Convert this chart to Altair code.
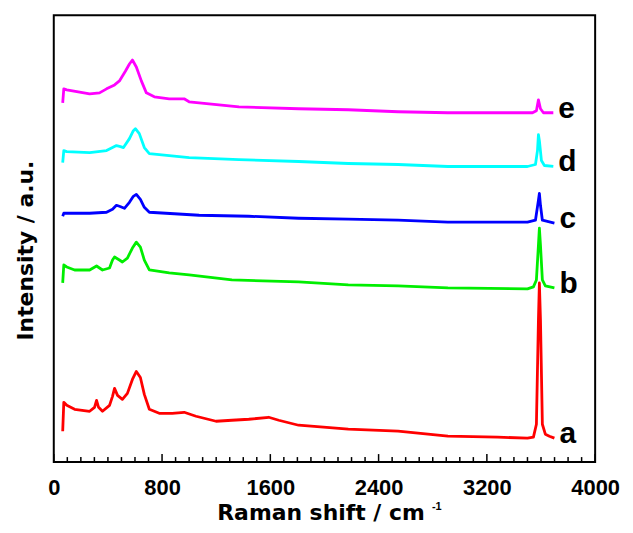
import altair as alt
import pandas as pd

# ---- data (Raman shift in cm-1, intensity in a.u., offset stacked) ----
series_names = ["a", "b", "c", "d", "e"]
series_colors = ["#FF0000", "#00EE00", "#0000FF", "#00FFFF", "#FF00FF"]

a_x = [66, 74, 96, 154, 265, 301, 316, 331, 360, 412, 434, 449, 471, 507, 544, 581, 610, 640, 669, 706,
       779, 875, 963, 1051, 1199, 1316, 1441, 1588, 1662, 1809, 2176, 2544, 2912, 3279, 3500, 3544, 3566,
       3581, 3588, 3596, 3610, 3632, 3662, 3699]
a_y = [31, 60, 57, 53, 51, 55, 62, 55, 51, 57, 66, 74, 67, 63, 69, 83, 91, 85, 68, 53,
       49, 49, 50, 46, 41, 42, 43, 45, 42, 37, 33, 31, 26, 25, 24, 25, 38,
       143, 180, 143, 38, 28, 26, 24]

b_x = [66, 74, 96, 154, 265, 316, 360, 412, 434, 449, 485, 507, 544, 581, 610, 640, 669, 706,
       853, 1000, 1316, 1809, 2176, 2544, 2912, 3500, 3544, 3566, 3581, 3588, 3596, 3610, 3632, 3699]
b_y = [180, 198, 196, 193, 193, 197, 193, 195, 203, 206, 203, 201, 205, 215, 221, 216, 203, 193,
       190, 188, 183, 181, 178, 177, 175, 174, 176, 183, 218, 235, 218, 183, 177, 175]

c_x = [66, 74, 96, 265, 390, 434, 463, 485, 522, 559, 588, 610, 640, 669, 706,
       1074, 1441, 1809, 2176, 2544, 2912, 3500, 3559, 3581, 3588, 3596, 3610, 3699]
c_y = [247, 250, 250, 250, 251, 254, 258, 257, 255, 261, 267, 269, 264, 256, 251,
       248, 247, 245, 244, 243, 241, 241, 243, 263, 270, 258, 243, 240]

d_x = [66, 74, 96, 265, 390, 434, 463, 493, 515, 559, 588, 603, 632, 669, 706,
       1000, 1368, 1809, 2176, 2544, 2912, 3500, 3559, 3574, 3581, 3588, 3603, 3625, 3691]
d_y = [301, 313, 312, 311, 313, 316, 318, 317, 316, 325, 333, 335, 330, 316, 310,
       306, 304, 302, 300, 299, 297, 297, 299, 313, 329, 323, 303, 298, 297]

e_x = [66, 74, 96, 265, 338, 390, 449, 485, 530, 559, 581, 610, 647, 684, 743, 853, 963, 1000,
       1368, 1809, 2176, 2544, 2912, 3537, 3566, 3581, 3596, 3618, 3691]
e_y = [361, 375, 374, 370, 371, 375, 379, 383, 393, 400, 404, 397, 383, 371, 367, 365, 365, 362,
       357, 355, 354, 352, 351, 351, 353, 364, 355, 351, 351]

x_major_ticks = [0, 800, 1600, 2400, 3200, 4000]
x_minor_ticks = [v for v in range(100, 4000, 100) if v % 800 != 0]

# ---- build tables ----
rows = []
for name, xs, ys in zip(series_names, [a_x, b_x, c_x, d_x, e_x], [a_y, b_y, c_y, d_y, e_y]):
    for i, (xv, yv) in enumerate(zip(xs, ys)):
        rows.append({"series": name, "shift": xv, "intensity": yv, "order": i})
df = pd.DataFrame(rows)

last = df.sort_values("order").groupby("series").tail(1).reset_index(drop=True)

major_df = pd.DataFrame({"tick": x_major_ticks})
minor_df = pd.DataFrame({"tick": x_minor_ticks})

FONT = "Liberation Sans"
TFONT = "DejaVu Sans"
W, H = 544, 449

xscale = alt.Scale(domain=[0, 4000], nice=False)
yscale = alt.Scale(domain=[0, 449], nice=False, zero=True)
color = alt.Color("series:N", scale=alt.Scale(domain=series_names, range=series_colors), legend=None)

lines = alt.Chart(df).mark_line(strokeWidth=2.8, strokeJoin="round").encode(
    x=alt.X("shift:Q", scale=xscale,
            axis=alt.Axis(values=x_major_ticks, format="d", title="Raman shift / cm", ticks=False,
                          grid=False, domain=False, labelFont=FONT, labelFontSize=22,
                          labelFontWeight="bold", labelColor="black", labelPadding=16, labelFlush=False,
                          titleFont=TFONT, titleFontSize=22, titleFontWeight="bold", titleColor="black",
                          titleX=268, titleAlign="center", titlePadding=4)),
    y=alt.Y("intensity:Q", scale=yscale,
            axis=alt.Axis(title="Intensity / a.u.", labels=False, ticks=False, grid=False, domain=False,
                          titleFont=TFONT, titleFontSize=22, titleFontWeight="bold", titleColor="black",
                          titlePadding=16, titleY=236, titleAlign="center")),
    color=color,
    detail="series:N",
    order="order:Q",
)

labels = alt.Chart(last).mark_text(align="left", baseline="alphabetic", dx=5, dy=5,
                                   font=FONT, fontSize=30, fontWeight="bold", color="black").encode(
    x=alt.X("shift:Q", scale=xscale),
    y=alt.Y("intensity:Q", scale=yscale),
    text="series:N",
)

major = alt.Chart(major_df).mark_rule(color="black", strokeWidth=1.5).encode(
    x=alt.X("tick:Q", scale=xscale), y=alt.value(H), y2=alt.value(H - 8))
minor = alt.Chart(minor_df).mark_rule(color="black", strokeWidth=1.5).encode(
    x=alt.X("tick:Q", scale=xscale), y=alt.value(H), y2=alt.value(H - 5))

sup = alt.Chart(major_df.head(1)).mark_text(align="left", baseline="alphabetic", font=FONT,
                                            fontSize=11, fontWeight="bold", color="black").encode(
    x=alt.value(380), y=alt.value(H + 48), text=alt.value("-1"))

chart = alt.layer(lines, labels, major, minor, sup).properties(
    width=W, height=H,
    autosize=alt.AutoSizeParams(type="none"),
    padding={"left": 46, "top": 6, "right": 30, "bottom": 62},
).configure_view(stroke="black", strokeWidth=2)

chart.save("out.html", embed_options={"renderer": "svg", "actions": False})
